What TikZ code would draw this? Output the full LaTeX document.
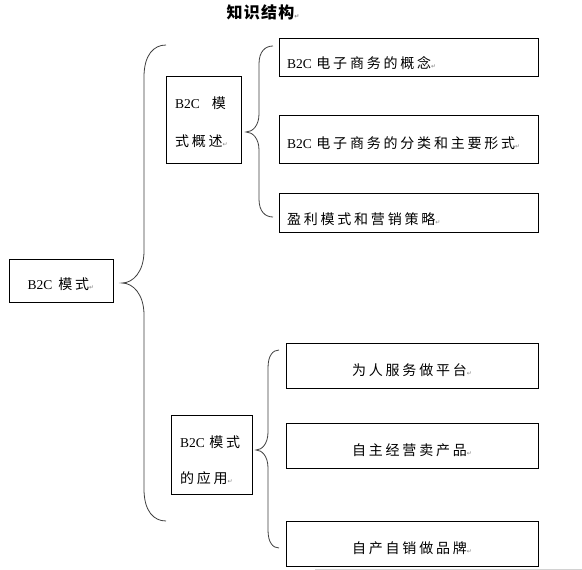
\documentclass[tikz,border=0pt]{standalone}
\usepackage{fontspec}
\newfontfamily\cjk{Noto Sans CJK SC}[LetterSpace=20]
\newfontfamily\cjktitle{Noto Sans CJK SC}[LetterSpace=8]
\newfontfamily\lat{Liberation Serif}
\newfontfamily\symf{DejaVu Sans}
\newcommand\pmark{{\symf\fontsize{6}{6}\selectfont\textcolor{gray}{↵}}}
\newcommand\latin[1]{{\lat\fontsize{13.5}{16}\selectfont #1}}
\newcommand\mybrace[7]{%
 \draw[bracestyle] (#1,#2) .. controls ({#3+0.45*(#1-#3)},#2) and (#3,{#2+0.3*#7}) .. (#3,{#2+#7})
  -- (#3,{#5-#7}) .. controls (#3,{#5-0.35*#7}) and ({#4+0.5*(#3-#4)},#5) .. (#4,#5)
  .. controls ({#4+0.5*(#3-#4)},#5) and (#3,{#5+0.35*#7}) .. (#3,{#5+#7})
  -- (#3,{#6-#7}) .. controls (#3,{#6-0.3*#7}) and ({#3+0.45*(#1-#3)},#6) .. (#1,#6);}
\tikzset{
 box/.style={draw, line width=0.8pt, inner sep=0pt, outer sep=0pt, anchor=north west,
   font=\cjk\fontsize{14}{16}\selectfont},
 lbox/.style={box, align=left, inner xsep=8pt, text width=243pt},
 bracestyle/.style={draw=black!75, line width=0.8pt},
}
\begin{document}
\begin{tikzpicture}[x=1pt,y=-1pt]
\useasboundingbox[fill=white] (0,0) rectangle (582,570);
\node[font=\cjktitle\bfseries\fontsize{16}{16}\selectfont] (title) at (263,12) {知识结构\pmark};

\node[box, minimum width=104pt, minimum height=43pt, text height=18pt, text depth=0pt] (root) at (9,259) {\latin{B2C} 模式\pmark};

\node[box, align=left, inner xsep=9pt, text width=57pt, minimum height=87pt,
  text height=18pt, text depth=40pt,
  font=\cjk\fontsize{14}{38}\selectfont] (ov) at (166,76) {\mbox{\latin{B2C}\hspace{12pt}模}\\\mbox{式概述\pmark}};
\node[box, align=left, inner xsep=9pt, text width=63pt, minimum height=79pt,
  text height=24pt, text depth=38pt,
  font=\cjk\fontsize{14}{36}\selectfont] (ap) at (171,415) {\mbox{\latin{B2C} 模式}\\\mbox{的应用\pmark}};

\node[lbox, minimum height=38pt, text height=23pt, text depth=0pt] (b1) at (279,38) {\mbox{\latin{B2C} 电子商务的概念\pmark}};
\node[lbox, minimum height=48pt, text height=19pt, text depth=0pt] (b2) at (279,115) {\mbox{\latin{B2C} 电子商务的分类和主要形式\pmark}};
\node[lbox, minimum height=39pt, text height=23pt, text depth=0pt] (b3) at (279,193) {\mbox{盈利模式和营销策略\pmark}};

\node[box, minimum width=252pt, minimum height=45pt, text height=19pt, text depth=0pt] (b4) at (286,343) {为人服务做平台\pmark};
\node[box, minimum width=252pt, minimum height=45pt, text height=19pt, text depth=0pt] (b5) at (286,423) {自主经营卖产品\pmark};
\node[box, minimum width=252pt, minimum height=45pt, text height=19pt, text depth=0pt] (b6) at (286,521) {自产自销做品牌\pmark};

\mybrace{166}{45}{144}{122}{283}{521}{32}
\mybrace{273}{46}{259}{246}{132}{217}{18}
\mybrace{279}{350}{268}{256}{450}{548}{18}

\draw[gray!35, line width=0.8pt] (315,569) -- (582,569);
\end{tikzpicture}
\end{document}
